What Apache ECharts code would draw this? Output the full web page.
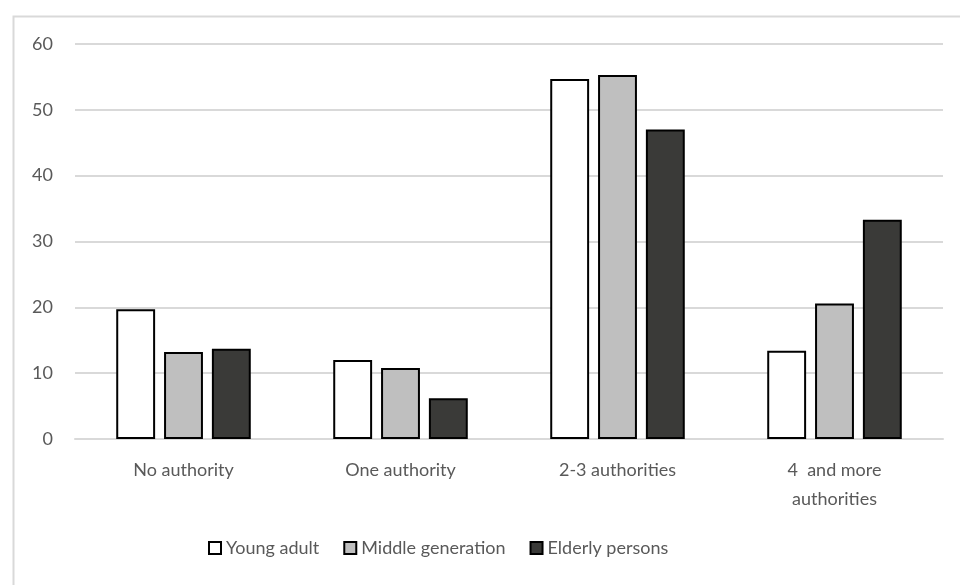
<!DOCTYPE html>
<html>
<head>
<meta charset="utf-8">
<script src="https://cdn.jsdelivr.net/npm/echarts@6/dist/echarts.min.js"></script>
<style>html,body{margin:0;padding:0;background:#fff;}#c{width:960px;height:585px;}</style>
</head>
<body>
<div id="c"></div>
<script>
const categories = ['No authority', 'One authority', '2-3 authorities', '4  and more\nauthorities'];
const seriesNames = ['Young adult', 'Middle generation', 'Elderly persons'];
const youngAdult = [19.7, 12.0, 54.7, 13.4];
const middleGeneration = [13.2, 10.8, 55.3, 20.6];
const elderlyPersons = [13.7, 6.2, 47.0, 33.3];
const yTicks = [0, 10, 20, 30, 40, 50, 60];
const colors = ['#ffffff', '#bfbfbf', '#3a3a38'];

const FONT = 'Lato, "Open Sans", sans-serif';
const chart = echarts.init(document.getElementById('c'), null, {renderer: 'canvas'});
const values = [youngAdult, middleGeneration, elderlyPersons];
chart.setOption({
  animation: false,
  backgroundColor: '#ffffff',
  graphic: [{
    type: 'rect', left: 11, top: 14,
    shape: {width: 1100, height: 1000},
    style: {fill: 'none', stroke: '#d9d9d9', lineWidth: 2}
  }],
  grid: {left: 75, right: 17, top: 44, bottom: 146, containLabel: false},
  legend: {
    bottom: 23, left: 203,
    itemWidth: 12, itemHeight: 12, itemGap: 24,
    icon: 'rect',
    textStyle: {color: '#595959', fontSize: 18, fontFamily: FONT},
    data: seriesNames
  },
  xAxis: {
    type: 'category', data: categories,
    axisLine: {show: true, lineStyle: {color: '#d9d9d9', width: 2}},
    axisTick: {show: false},
    axisLabel: {color: '#595959', fontSize: 18, fontFamily: FONT, margin: 17, lineHeight: 29}
  },
  yAxis: {
    type: 'value', min: yTicks[0], max: yTicks[yTicks.length - 1], interval: 10,
    axisLine: {show: false}, axisTick: {show: false},
    splitLine: {lineStyle: {color: '#d9d9d9', width: 2}},
    axisLabel: {color: '#595959', fontSize: 18, fontFamily: FONT, margin: 22}
  },
  series: seriesNames.map((n, i) => ({
    name: n, type: 'bar', data: values[i],
    barGap: '23%', barCategoryGap: '38%',
    itemStyle: {color: colors[i], borderColor: '#000000', borderWidth: 2}
  }))
});
</script>
</body>
</html>
